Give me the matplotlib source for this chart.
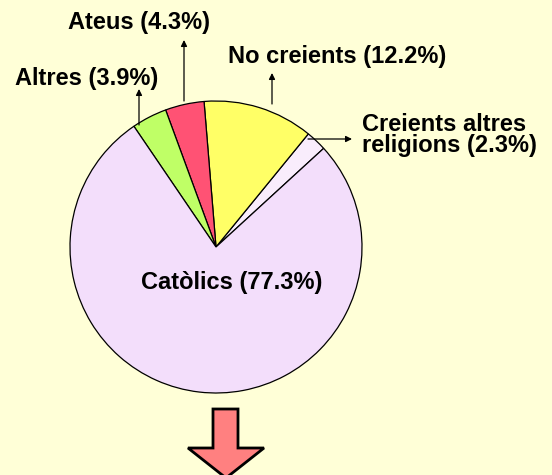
import matplotlib
matplotlib.use("Agg")
from matplotlib import pyplot as plt
from matplotlib.patches import Polygon

plt.rcParams["font.family"] = ["Liberation Sans", "DejaVu Sans"]

labels = ["Creients altres\nreligions (2.3%)", "No creients (12.2%)", "Ateus (4.3%)",
          "Altres (3.9%)", "Catòlics (77.3%)"]
values = [2.3, 12.2, 4.3, 3.9, 77.3]
colors = ["#F9EDFC", "#FFFF66", "#FF5274", "#BFFF66", "#F3DEFB"]

W, H = 552, 475
fig = plt.figure(figsize=(W / 100, H / 100), dpi=100)
fig.patch.set_facecolor("#FFFFD7")
ax = fig.add_axes([0, 0, 1, 1])
ax.set_facecolor("#FFFFD7")

cx, cy, r = 216, H - 247, 146
ax.pie(values, colors=colors, startangle=42.5, counterclock=True, center=(cx, cy), radius=r,
       frame=True, wedgeprops=dict(edgecolor="black", linewidth=0.9))
ax.set_xlim(0, W)
ax.set_ylim(0, H)
ax.set_aspect("equal")
ax.axis("off")

fs = 17
ax.text(232, H - 283, labels[4], ha="center", va="center", fontsize=fs, fontweight="bold")
ax.text(15, H - 78, labels[3], ha="left", va="center", fontsize=fs, fontweight="bold")
ax.text(68, H - 23, labels[2], ha="left", va="center", fontsize=fs, fontweight="bold")
ax.text(228, H - 57, labels[1], ha="left", va="center", fontsize=fs, fontweight="bold")
ax.text(362, H - 135, labels[0], ha="left", va="center", fontsize=fs, fontweight="bold",
        linespacing=0.92)

arrows = [((139, 125), (139, 89)), ((184, 101), (184, 40)),
          ((272, 104), (272, 73)), ((308, 139), (352, 139))]
for (x0, y0), (x1, y1) in arrows:
    ax.annotate("", xy=(x1, H - y1), xytext=(x0, H - y0),
                arrowprops=dict(arrowstyle="-|>", color="black", lw=0.9,
                                mutation_scale=9, shrinkA=0, shrinkB=0))

# big down arrow
big = [(213, 409), (238, 409), (238, 448), (264, 448), (226, 478), (188, 448), (213, 448)]
ax.add_patch(Polygon([(x, H - y) for x, y in big], closed=True, facecolor="#FF8080",
                     edgecolor="black", linewidth=2, clip_on=False))

fig.savefig("out.png", dpi=100, facecolor=fig.get_facecolor())
